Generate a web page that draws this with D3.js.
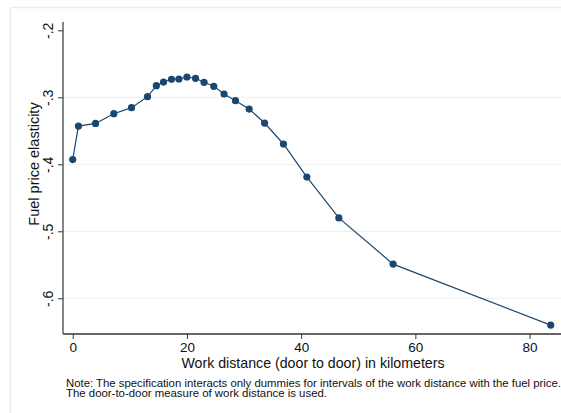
<!DOCTYPE html>
<html>
<head>
<meta charset="utf-8">
<script src="https://cdn.jsdelivr.net/npm/d3@7"></script>
<style>
  html, body { margin: 0; padding: 0; background: #fff; }
  svg { display: block; font-family: "Liberation Sans", Arial, sans-serif; }
</style>
</head>
<body>
<svg id="chart" width="561" height="413"></svg>
<script>
// Work distance (km) at each interval midpoint
const distance = [0, 1, 4, 7.2, 10.3, 13.1, 14.65, 15.9, 17.3, 18.6, 20.0, 21.5, 23.0, 24.7,
                  26.5, 28.5, 30.9, 33.6, 36.9, 41.0, 46.6, 56.1, 83.7];
// Estimated fuel price elasticity per interval
const elasticity = [-0.393, -0.343, -0.339, -0.3245, -0.3155, -0.299, -0.2827, -0.2772, -0.2731,
                    -0.2727, -0.2697, -0.2716, -0.2776, -0.2836, -0.2951, -0.305, -0.3175, -0.3384,
                    -0.3697, -0.419, -0.480, -0.549, -0.640];
const xTicks = [0, 20, 40, 60, 80];
const yTicks = [-0.2, -0.3, -0.4, -0.5, -0.6];
const yTickLabels = ["-.2", "-.3", "-.4", "-.5", "-.6"];
const xTitle = "Work distance (door to door) in kilometers";
const yTitle = "Fuel price elasticity";
const notes = [
  "Note: The specification interacts only dummies for intervals of the work distance with the fuel price.",
  "The door-to-door measure of work distance is used."
];
const noteWidths = [495, 261];

const svg = d3.select("#chart");
const navy = "#1a476f";

// Outer graph frame
svg.append("rect")
  .attr("x", 10.5).attr("y", 7.5).attr("width", 560).attr("height", 420)
  .attr("fill", "none").attr("stroke", "#e6eef0").attr("stroke-width", 1.5);

const plot = { left: 63, right: 561, top: 22, bottom: 334 };

const x = d3.scaleLinear().domain([-1.7, 85.5]).range([plot.left, plot.right]);
const y = d3.scaleLinear().domain([-0.6533, -0.1876]).range([plot.bottom, plot.top]);

// Horizontal grid lines
svg.append("g")
  .selectAll("line")
  .data(yTicks.filter(v => v !== -0.2))
  .join("line")
  .attr("x1", plot.left).attr("x2", plot.right)
  .attr("y1", d => y(d)).attr("y2", d => y(d))
  .attr("stroke", "#e8f0f2").attr("stroke-width", 1);

// Y axis
const yAxis = d3.axisLeft(y)
  .tickValues(yTicks)
  .tickFormat((d, i) => yTickLabels[i])
  .tickSize(5).tickPadding(4);
const gy = svg.append("g").attr("transform", `translate(${plot.left},0)`).call(yAxis);
gy.select(".domain").attr("stroke", "#333").attr("stroke-width", 1.2)
  .attr("d", `M0,${plot.top}V${plot.bottom}`);
gy.selectAll(".tick line").attr("stroke", "#333");
gy.selectAll(".tick text")
  .attr("font-size", 14).attr("fill", "#111")
  .attr("text-anchor", "middle")
  .attr("x", 0).attr("dy", 0)
  .attr("transform", "translate(-10,0) rotate(-90)");

// X axis
const xAxis = d3.axisBottom(x).tickValues(xTicks).tickSize(5).tickPadding(3);
const gx = svg.append("g").attr("transform", `translate(0,${plot.bottom})`).call(xAxis);
gx.select(".domain").attr("stroke", "#666").attr("stroke-width", 2)
  .attr("d", `M${plot.left},0H${plot.right}`);
gx.selectAll(".tick line").attr("stroke", "#333");
gx.selectAll(".tick text").attr("font-size", 13.5).attr("fill", "#111");

// Axis titles
svg.append("text")
  .attr("transform", "translate(39,164) rotate(-90)")
  .attr("text-anchor", "middle").attr("font-size", 14.5).attr("fill", "#111")
  .text(yTitle);
svg.append("text")
  .attr("x", 313).attr("y", 368)
  .attr("text-anchor", "middle").attr("font-size", 14.2).attr("fill", "#111")
  .text(xTitle);

// Notes
svg.append("g").selectAll("text")
  .data(notes).join("text")
  .attr("x", 66).attr("y", (d, i) => 386.5 + i * 10.6)
  .attr("font-size", 10.6).attr("fill", "#111")
  .attr("textLength", (d, i) => noteWidths[i])
  .attr("lengthAdjust", "spacingAndGlyphs")
  .text(d => d);

// Connected line with markers
const pts = distance.map((d, i) => [d, elasticity[i]]);
svg.append("path")
  .datum(pts)
  .attr("fill", "none").attr("stroke", navy).attr("stroke-width", 1.2)
  .attr("d", d3.line().x(d => x(d[0])).y(d => y(d[1])));
svg.append("g").selectAll("circle")
  .data(pts).join("circle")
  .attr("cx", d => x(d[0])).attr("cy", d => y(d[1]))
  .attr("r", 3.6).attr("fill", navy);
</script>
</body>
</html>
